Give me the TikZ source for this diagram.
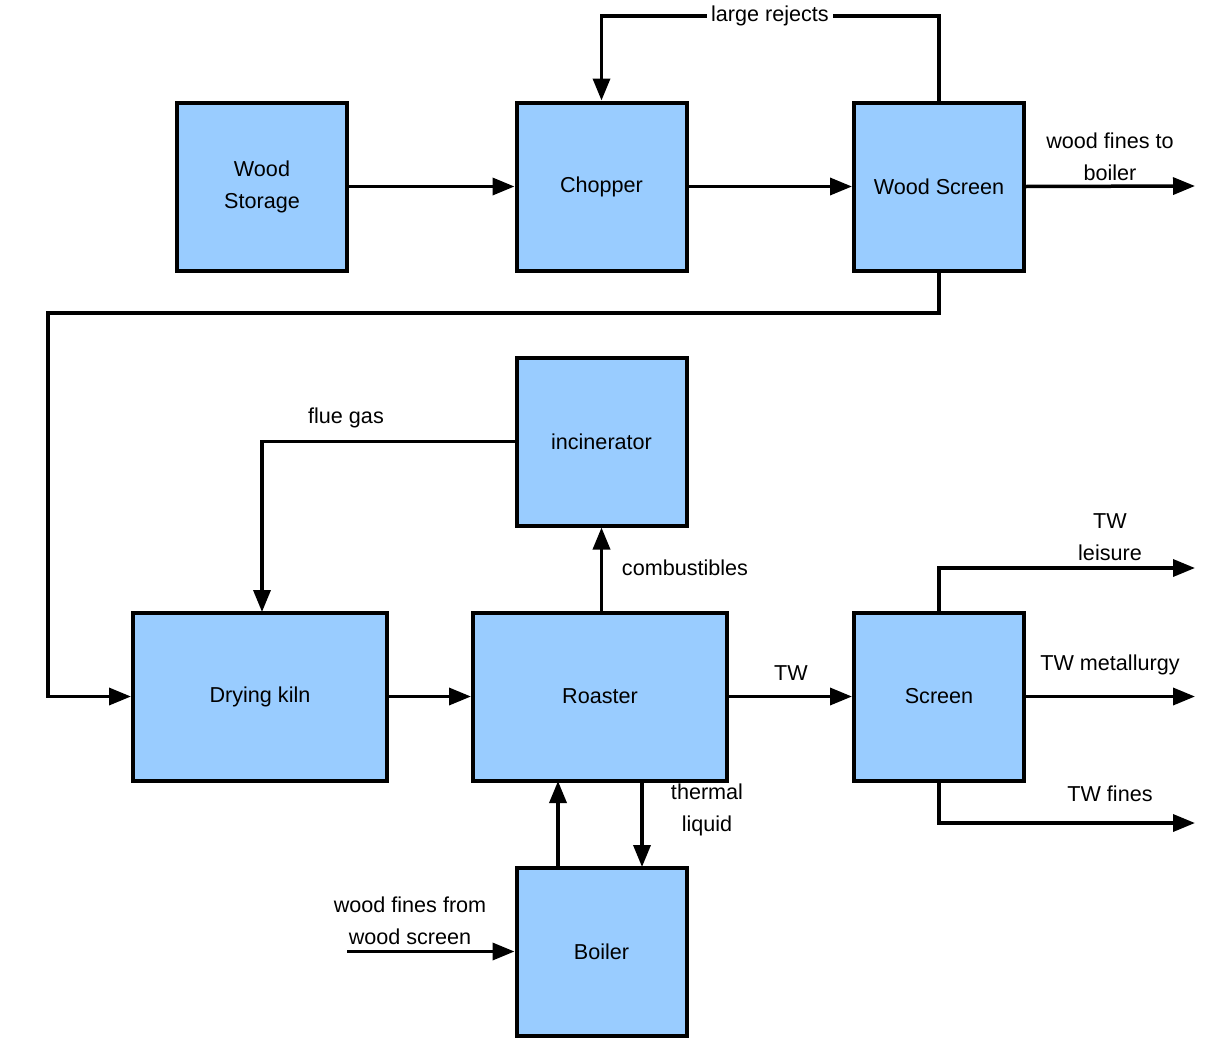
\documentclass[tikz,border=0pt]{standalone}
\usepackage{fontspec}
\setmainfont{Liberation Sans}
\usetikzlibrary{arrows.meta}
\definecolor{boxblue}{HTML}{99CCFF}
\tikzset{
  blk/.style={draw=black, line width=4pt, fill=boxblue, minimum width=170pt, minimum height=168pt, inner sep=0pt, align=center, font=\fontsize{21.6}{32}\selectfont},
  wide/.style={minimum width=254pt},
  lbl/.style={inner sep=1pt, align=center, font=\fontsize{21.6}{32}\selectfont},
  conn/.style={line width=3.5pt, -{Triangle[length=22pt,width=17pt]}},
  plain/.style={line width=3.5pt}
}
\begin{document}
\begin{tikzpicture}[x=1pt,y=-1pt]
\useasboundingbox (0,0) rectangle (1222,1049);
% boxes
\node[blk] (storage) at (262,186.5) {Wood\\Storage};
\node[blk] (chopper) at (601.5,186.5) {Chopper};
\node[blk] (wscreen) at (939,186.5) {Wood Screen};
\node[blk] (incin) at (601.5,441.5) {incinerator};
\node[blk,wide] (kiln) at (260,696.5) {Drying kiln};
\node[blk,wide] (roaster) at (600,696.5) {Roaster};
\node[blk] (screen) at (939,696.5) {Screen};
\node[blk] (boiler) at (601.5,951.5) {Boiler};
% free ends
\coordinate (fineout) at (1195,186);
\coordinate (leisout) at (1195,568);
\coordinate (metout) at (1195,696.5);
\coordinate (finesout) at (1195,823);
\coordinate (wfin) at (347,951.5);
% connectors
\draw[conn] (storage) -- (chopper);
\draw[conn] (chopper) -- (wscreen);
\draw[conn] (wscreen.north) |- (770,16) -| (chopper.north);
\node[lbl, fill=white, inner xsep=4pt] (lr) at (770,16) {large rejects};
\draw[conn] (wscreen.east) -- (fineout);
\node[lbl] (lfine) at (1110,157) {wood fines to\\boiler};
\draw[conn] (wscreen.south) -- (939,313) -- (48,313) |- (kiln.west);
\draw[conn] (incin.west) -| (262,612);
\node[lbl] (lflue) at (346,418) {flue gas};
\draw[conn] (roaster.north -| incin.south) -- (incin.south);
\node[lbl] (lcomb) at (685,568) {combustibles};
\draw[conn] (kiln) -- (roaster);
\draw[conn] (roaster) -- (screen);
\node[lbl] (ltw) at (791,673) {TW};
\draw[conn] (screen.north) |- (leisout);
\node[lbl] (lleis) at (1110,537) {TW\\leisure};
\draw[conn] (screen.east) -- (metout);
\node[lbl] (lmet) at (1110,665) {TW metallurgy};
\draw[conn] (screen.south) |- (finesout);
\node[lbl] (lfines) at (1110,794) {TW fines};
\draw[conn] (558,867) -- (558,781);
\draw[conn] (642,781) -- (642,867);
\node[lbl] (lthermal) at (707,810) {thermal\\liquid};
\draw[conn] (wfin) -- (boiler.west);
\node[lbl] (lwf) at (410,921) {wood fines from\\wood screen};
\end{tikzpicture}
\end{document}
